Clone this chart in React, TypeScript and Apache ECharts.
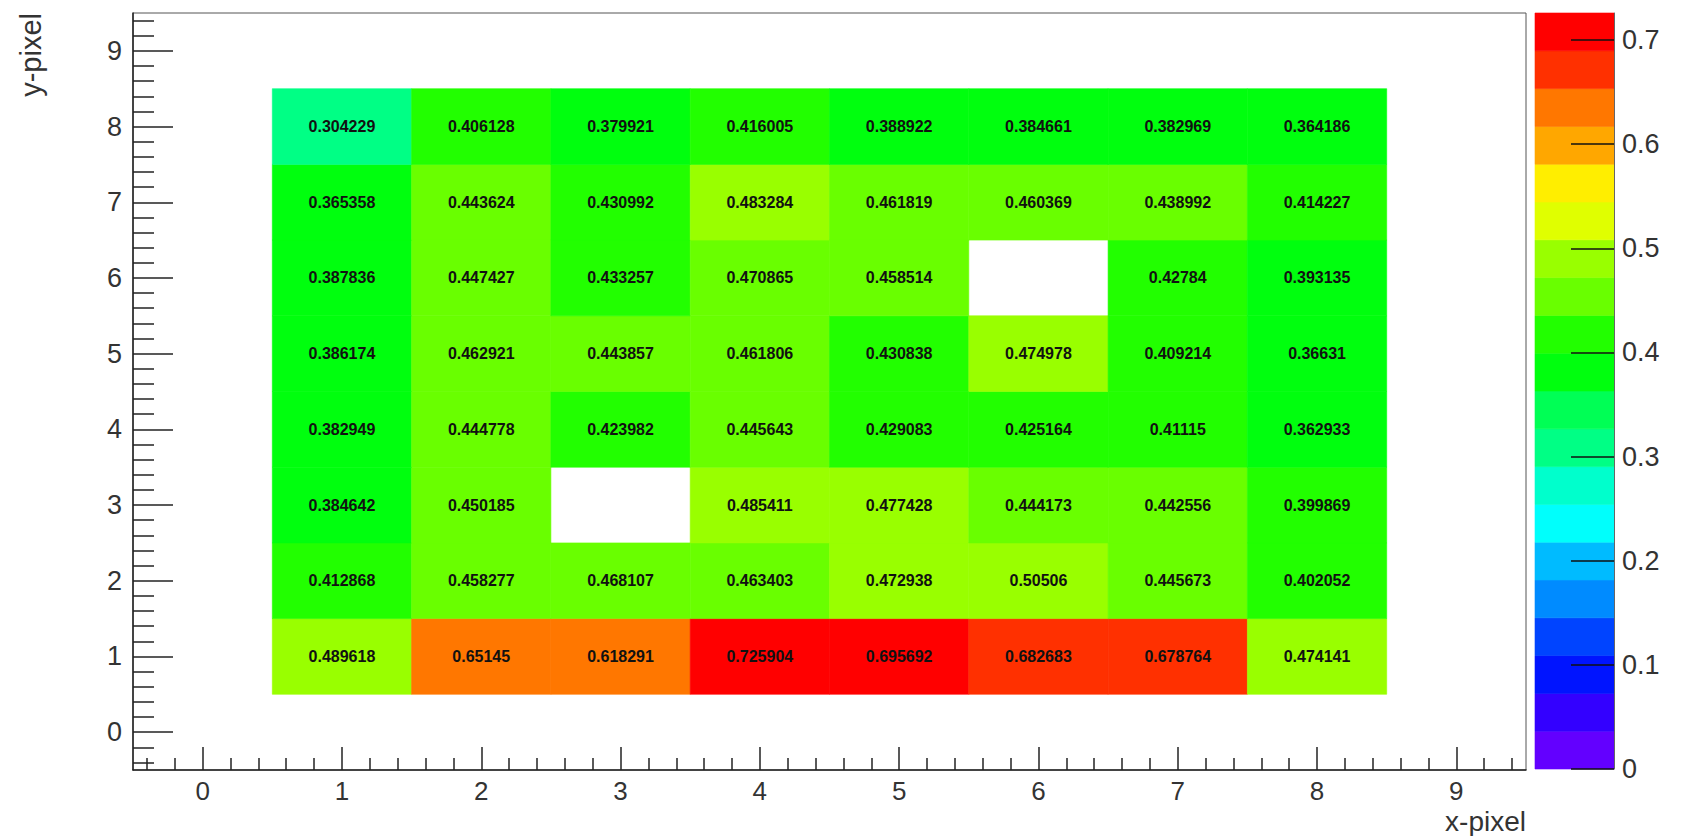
import React, { useEffect, useRef } from "react";
import * as echarts from "echarts";

// bin centres
const xBins = [1, 2, 3, 4, 5, 6, 7, 8];
const yBins = [1, 2, 3, 4, 5, 6, 7, 8];

// bin contents, one array per y row (null = empty bin)
const rowY1 = [0.489618, 0.65145, 0.618291, 0.725904, 0.695692, 0.682683, 0.678764, 0.474141];
const rowY2 = [0.412868, 0.458277, 0.468107, 0.463403, 0.472938, 0.50506, 0.445673, 0.402052];
const rowY3 = [0.384642, 0.450185, null, 0.485411, 0.477428, 0.444173, 0.442556, 0.399869];
const rowY4 = [0.382949, 0.444778, 0.423982, 0.445643, 0.429083, 0.425164, 0.41115, 0.362933];
const rowY5 = [0.386174, 0.462921, 0.443857, 0.461806, 0.430838, 0.474978, 0.409214, 0.36631];
const rowY6 = [0.387836, 0.447427, 0.433257, 0.470865, 0.458514, null, 0.42784, 0.393135];
const rowY7 = [0.365358, 0.443624, 0.430992, 0.483284, 0.461819, 0.460369, 0.438992, 0.414227];
const rowY8 = [0.304229, 0.406128, 0.379921, 0.416005, 0.388922, 0.384661, 0.382969, 0.364186];
const rows = [rowY1, rowY2, rowY3, rowY4, rowY5, rowY6, rowY7, rowY8];

// colour scale
const zMin = 0;
const zMax = 0.725904;
const nContours = 20;
const palette = [
  "#6300ff", "#3300ff", "#0014ff", "#0044ff", "#008bff",
  "#00bbff", "#00fffc", "#00ffcc", "#00ff85", "#00ff55",
  "#00ff0e", "#22ff00", "#69ff00", "#99ff00", "#e0ff00",
  "#ffee00", "#ffa700", "#ff7700", "#ff3000", "#ff0000",
];

// axes
const axisMin = -0.5;
const axisMax = 9.5;
const axisTicks = [0, 1, 2, 3, 4, 5, 6, 7, 8, 9];
const axisTickLabels = ["0", "1", "2", "3", "4", "5", "6", "7", "8", "9"];
const zTicks = [0, 0.1, 0.2, 0.3, 0.4, 0.5, 0.6, 0.7];
const zTickLabels = ["0", "0.1", "0.2", "0.3", "0.4", "0.5", "0.6", "0.7"];
const xTitle = "x-pixel";
const yTitle = "y-pixel";

const FONT = "Liberation Sans";

function colorFor(v: number): string {
  let k = Math.floor(0.01 + ((v - zMin) * nContours) / (zMax - zMin));
  if (k < 0) k = 0;
  if (k > nContours - 1) k = nContours - 1;
  return palette[k];
}

export default function App() {
  const ref = useRef<HTMLDivElement | null>(null);

  useEffect(() => {
    if (!ref.current) return;
    const chart = echarts.init(ref.current, undefined, { renderer: "svg" });

    const cellData: number[][] = [];
    rows.forEach((row, j) => {
      row.forEach((v, i) => {
        if (v !== null && v !== undefined) cellData.push([xBins[i], yBins[j], v]);
      });
    });

    const minorTicks: number[] = [];
    for (let t = 0; t <= 50; t++) {
      const val = Math.round((axisMin + 0.1 + t * 0.2) * 10) / 10;
      if (val > axisMin && val < axisMax && !axisTicks.includes(val)) minorTicks.push(val);
    }

    const bandData = palette.map((_, k) => [k]);

    const labelFmt = (ticks: number[], labels: string[]) => (v: number) => {
      const idx = ticks.findIndex((t) => Math.abs(t - v) < 1e-9);
      return idx >= 0 ? labels[idx] : String(v);
    };

    const L = 133, T = 13, R = 1526, B = 770;
    const cbL = 1535, cbR = 1614, cbB = 769;

    const option: any = {
      animation: false,
      backgroundColor: "#ffffff",
      textStyle: { fontFamily: FONT },
      grid: [
        { left: L, top: T, width: R - L, height: B - T, show: true, borderColor: "#555", borderWidth: 1, backgroundColor: "transparent" },
        { left: cbL, top: T, width: cbR - cbL, height: cbB - T, show: false },
      ],
      xAxis: [
        {
          gridIndex: 0, type: "value", min: axisMin, max: axisMax, position: "bottom", z: 10,
          axisLine: { show: true, onZero: false, lineStyle: { color: "#222", width: 1.5 } },
          axisTick: { show: true, inside: true, length: 23, customValues: axisTicks, lineStyle: { color: "#222", width: 1.5 } },
          axisLabel: { show: true, customValues: axisTicks, formatter: labelFmt(axisTicks, axisTickLabels), fontSize: 26, color: "#333", margin: 8, fontFamily: FONT },
          splitLine: { show: false },
        },
        {
          gridIndex: 0, type: "value", min: axisMin, max: axisMax, position: "bottom", z: 10,
          axisLine: { show: false, onZero: false },
          axisTick: { show: true, inside: true, length: 12, customValues: minorTicks, lineStyle: { color: "#222", width: 1.5 } },
          axisLabel: { show: false },
          splitLine: { show: false },
        },
        {
          gridIndex: 1, type: "value", min: 0, max: 1, show: false,
        },
      ],
      yAxis: [
        {
          gridIndex: 0, type: "value", min: axisMin, max: axisMax, position: "left", z: 10,
          axisLine: { show: true, onZero: false, lineStyle: { color: "#222", width: 1.5 } },
          axisTick: { show: true, inside: true, length: 40, customValues: axisTicks, lineStyle: { color: "#222", width: 1.5 } },
          axisLabel: { show: true, customValues: axisTicks, formatter: labelFmt(axisTicks, axisTickLabels), fontSize: 27, color: "#333", margin: 11, fontFamily: FONT },
          splitLine: { show: false },
        },
        {
          gridIndex: 0, type: "value", min: axisMin, max: axisMax, position: "left", z: 10,
          axisLine: { show: false, onZero: false },
          axisTick: { show: true, inside: true, length: 21, customValues: minorTicks, lineStyle: { color: "#222", width: 1.5 } },
          axisLabel: { show: false },
          splitLine: { show: false },
        },
        {
          gridIndex: 1, type: "value", min: zMin, max: zMax, position: "right", z: 10,
          axisLine: { show: true, onZero: false, lineStyle: { color: "#666", width: 1 } },
          axisTick: { show: true, inside: true, length: 43, customValues: zTicks, lineStyle: { color: "#111", width: 1.5 } },
          axisLabel: { show: true, customValues: zTicks, formatter: labelFmt(zTicks, zTickLabels), fontSize: 27, color: "#333", margin: 8, fontFamily: FONT },
          splitLine: { show: false },
        },
      ],
      series: [
        {
          type: "custom",
          xAxisIndex: 0,
          yAxisIndex: 0,
          z: 1,
          dimensions: ["x", "y", "z"],
          encode: { x: 0, y: 1 },
          data: cellData,
          renderItem: (params: any, api: any) => {
            const x = api.value(0), y = api.value(1), v = api.value(2);
            const p0 = api.coord([x - 0.5, y + 0.5]);
            const p1 = api.coord([x + 0.5, y - 0.5]);
            const c = api.coord([x, y]);
            const col = colorFor(v);
            return {
              type: "group",
              children: [
                { type: "rect", shape: { x: p0[0], y: p0[1], width: p1[0] - p0[0], height: p1[1] - p0[1] }, style: { fill: col, stroke: col, lineWidth: 0.6 } },
                { type: "text", style: { text: String(v), x: c[0], y: c[1], align: "center", verticalAlign: "middle", fill: "#111", fontSize: 16, fontWeight: "bold", fontFamily: FONT } },
              ],
            };
          },
        },
        {
          type: "custom",
          xAxisIndex: 2,
          yAxisIndex: 2,
          z: 1,
          data: bandData,
          renderItem: (params: any, api: any) => {
            const k = api.value(0);
            const lo = zMin + (k * (zMax - zMin)) / nContours;
            const hi = zMin + ((k + 1) * (zMax - zMin)) / nContours;
            const p0 = api.coord([0, hi]);
            const p1 = api.coord([1, lo]);
            const col = palette[k];
            return { type: "rect", shape: { x: p0[0], y: p0[1], width: p1[0] - p0[0], height: p1[1] - p0[1] }, style: { fill: col, stroke: col, lineWidth: 0.6 } };
          },
        },
      ],
      graphic: [
        { type: "text", x: R, y: 835, style: { text: xTitle, align: "right", verticalAlign: "bottom", fontSize: 28, fill: "#333", fontFamily: FONT } },
        { type: "text", x: 31, y: T, rotation: Math.PI / 2, style: { text: yTitle, align: "right", verticalAlign: "middle", fontSize: 29, fill: "#333", fontFamily: FONT } },
      ],
    };

    chart.setOption(option);
    return () => chart.dispose();
  }, []);

  return <div ref={ref} style={{ position: "fixed", left: 0, top: 0, width: 1681, height: 836, background: "#fff" }} />;
}
